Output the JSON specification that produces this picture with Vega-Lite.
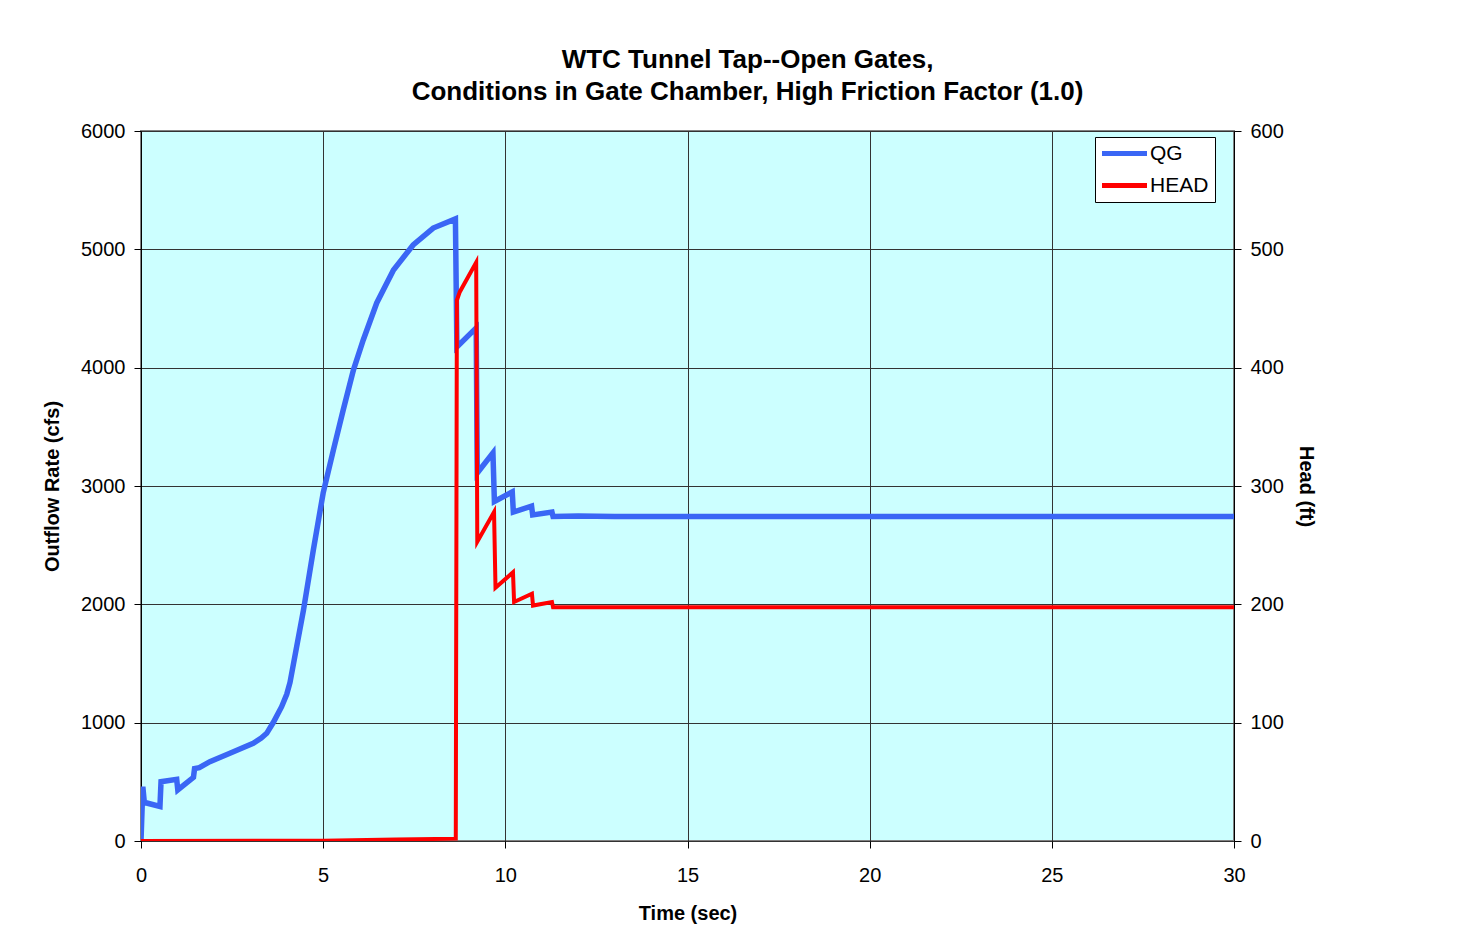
{
  "$schema": "https://vega.github.io/schema/vega-lite/v6.json",
  "width": 1093,
  "height": 710,
  "autosize": {"type": "none"},
  "padding": {"left": 141, "top": 131, "right": 236, "bottom": 106},
  "background": "white",
  "config": {
    "font": "Liberation Sans",
    "view": {"fill": "#CCFFFF", "stroke": "#808080", "strokeWidth": 2},
    "axis": {
      "labelFont": "Liberation Sans",
      "labelFontSize": 20,
      "labelColor": "#000000",
      "titleFont": "Liberation Sans",
      "titleFontSize": 20,
      "titleFontWeight": "bold",
      "titleColor": "#000000",
      "domainColor": "#000000",
      "tickColor": "#000000",
      "tickSize": 7,
      "gridColor": "#333333",
      "gridWidth": 1,
      "gridOpacity": 1,
      "format": "d",
      "labelFlush": false
    }
  },
  "title": {
    "text": ["WTC Tunnel Tap--Open Gates,", "Conditions in Gate Chamber, High Friction Factor (1.0)"],
    "font": "Liberation Sans",
    "fontSize": 26,
    "fontWeight": "bold",
    "color": "#000000",
    "lineHeight": 32,
    "offset": 16,
    "dx": 60,
    "anchor": "middle"
  },
  "datasets": {
    "qg": [
      {"t": 0, "v": 0},
      {"t": 0.05, "v": 459},
      {"t": 0.09, "v": 330},
      {"t": 0.16, "v": 321},
      {"t": 0.52, "v": 292},
      {"t": 0.55, "v": 501},
      {"t": 0.98, "v": 521},
      {"t": 1.01, "v": 431},
      {"t": 1.44, "v": 538},
      {"t": 1.47, "v": 612},
      {"t": 1.6, "v": 620},
      {"t": 1.89, "v": 670},
      {"t": 2.44, "v": 741},
      {"t": 3.08, "v": 826},
      {"t": 3.3, "v": 870},
      {"t": 3.45, "v": 910},
      {"t": 3.63, "v": 1001},
      {"t": 3.86, "v": 1135},
      {"t": 4.0, "v": 1240},
      {"t": 4.09, "v": 1340},
      {"t": 4.46, "v": 1952},
      {"t": 4.73, "v": 2459},
      {"t": 5.0, "v": 2941},
      {"t": 5.28, "v": 3304},
      {"t": 5.55, "v": 3642},
      {"t": 5.83, "v": 3980},
      {"t": 6.1, "v": 4234},
      {"t": 6.47, "v": 4547},
      {"t": 6.93, "v": 4825},
      {"t": 7.47, "v": 5037},
      {"t": 8.02, "v": 5180},
      {"t": 8.63, "v": 5257},
      {"t": 8.67, "v": 4175},
      {"t": 9.2, "v": 4336},
      {"t": 9.23, "v": 3110},
      {"t": 9.66, "v": 3280},
      {"t": 9.7, "v": 2870},
      {"t": 10.19, "v": 2950},
      {"t": 10.22, "v": 2780},
      {"t": 10.72, "v": 2830},
      {"t": 10.75, "v": 2756},
      {"t": 11.28, "v": 2780},
      {"t": 11.31, "v": 2742},
      {"t": 12, "v": 2746},
      {"t": 13, "v": 2742},
      {"t": 30, "v": 2742}
    ],
    "head": [
      {"t": 0, "v": 0},
      {"t": 5, "v": 0.3},
      {"t": 7, "v": 1.2},
      {"t": 8.64, "v": 2},
      {"t": 8.67, "v": 457},
      {"t": 8.75, "v": 464},
      {"t": 9.2, "v": 489},
      {"t": 9.23, "v": 253},
      {"t": 9.69, "v": 278},
      {"t": 9.73, "v": 214},
      {"t": 10.21, "v": 227},
      {"t": 10.24, "v": 202},
      {"t": 10.73, "v": 209},
      {"t": 10.76, "v": 199},
      {"t": 11.28, "v": 202},
      {"t": 11.31, "v": 197.5},
      {"t": 12, "v": 197.5},
      {"t": 30, "v": 197.5}
    ]
  },
  "layer": [
    {
      "data": {"name": "qg"},
      "mark": {"type": "line", "strokeWidth": 5.5, "clip": true},
      "encoding": {
        "x": {
          "field": "t", "type": "quantitative",
          "scale": {"domain": [0, 30], "nice": false, "zero": false},
          "axis": {"values": [0, 5, 10, 15, 20, 25, 30], "title": "Time (sec)", "labelPadding": 17, "titlePadding": 18, "grid": true, "domain": false}
        },
        "y": {
          "field": "v", "type": "quantitative",
          "scale": {"domain": [0, 6000], "nice": false},
          "axis": {"values": [0, 1000, 2000, 3000, 4000, 5000, 6000], "title": "Outflow Rate (cfs)", "labelPadding": 9, "titlePadding": 18, "grid": true, "domain": true}
        },
        "color": {
          "datum": "QG", "type": "nominal",
          "scale": {"domain": ["QG", "HEAD"], "range": ["#3A66F5", "#FF0000"]},
          "legend": {
            "title": null,
            "orient": "none",
            "legendX": 954,
            "legendY": 6,
            "direction": "vertical",
            "fillColor": "#FFFFFF",
            "strokeColor": "#000000",
            "padding": 6,
            "symbolType": "M-3,0L3,0",
            "symbolSize": 225,
            "symbolOffset": 13,
            "symbolStrokeWidth": 5,
            "labelFont": "Liberation Sans",
            "labelFontSize": 21,
            "labelColor": "#000000",
            "labelOffset": 15,
            "rowPadding": 10
          }
        }
      }
    },
    {
      "data": {"name": "head"},
      "mark": {"type": "line", "strokeWidth": 4, "clip": true},
      "encoding": {
        "x": {"field": "t", "type": "quantitative"},
        "y": {
          "field": "v", "type": "quantitative",
          "scale": {"domain": [0, 600], "nice": false},
          "axis": {"orient": "right", "values": [0, 100, 200, 300, 400, 500, 600], "title": "Head (ft)", "labelPadding": 9, "titlePadding": 12, "grid": false, "domain": true}
        },
        "color": {"datum": "HEAD", "type": "nominal"}
      }
    }
  ],
  "resolve": {"scale": {"y": "independent"}}
}
